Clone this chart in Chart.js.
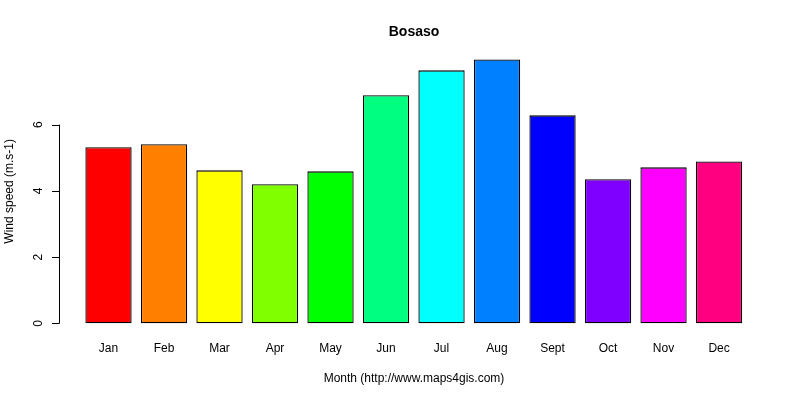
<!DOCTYPE html>
<html>
<head>
<meta charset="utf-8">
<script src="https://cdn.jsdelivr.net/npm/chart.js@4/dist/chart.umd.min.js"></script>
<style>
  html, body { margin: 0; padding: 0; background: #fff; }
  #wrap { width: 800px; height: 400px; }
</style>
</head>
<body>
<div id="wrap"><canvas id="myChart" width="800" height="400"></canvas></div>
<script>
const months = ["Jan","Feb","Mar","Apr","May","Jun","Jul","Aug","Sept","Oct","Nov","Dec"];
const windSpeed = [5.32, 5.41, 4.62, 4.20, 4.59, 6.89, 7.64, 7.97, 6.28, 4.35, 4.71, 4.89];
const barColors = ["#FF0000","#FF8000","#FFFF00","#80FF00","#00FF00","#00FF80",
                   "#00FFFF","#0080FF","#0000FF","#8000FF","#FF00FF","#FF0080"];
const yTicks = [0, 2, 4, 6];

const FONT = "'Liberation Sans', Arial, sans-serif";

// R style y axis: line only from first to last tick, rotated labels
const rAxis = {
    id: 'rAxis',
    afterDraw(chart){
        const ctx = chart.ctx;
        const y = chart.scales.y;
        const ax = chart.chartArea.left;
        ctx.save();
        ctx.strokeStyle = '#000';
        ctx.lineWidth = 1;
        ctx.beginPath();
        ctx.moveTo(ax + 0.5, y.getPixelForValue(yTicks[0]));
        ctx.lineTo(ax + 0.5, y.getPixelForValue(yTicks[yTicks.length-1]));
        for(let i=0; i<yTicks.length; i++){
            const py = Math.round(y.getPixelForValue(yTicks[i])) + 0.5;
            ctx.moveTo(ax + 0.5, py);
            ctx.lineTo(ax - 7, py);
        }
        ctx.stroke();
        ctx.fillStyle = '#000';
        ctx.font = '12px ' + FONT;
        ctx.textAlign = 'center';
        ctx.textBaseline = 'middle';
        for(let i=0; i<yTicks.length; i++){
            ctx.save();
            ctx.translate(ax - 20, y.getPixelForValue(yTicks[i]));
            ctx.rotate(-Math.PI/2);
            ctx.fillText(String(yTicks[i]), 0, 0);
            ctx.restore();
        }
        // axis title
        ctx.save();
        ctx.translate(10, (chart.chartArea.top + chart.chartArea.bottom)/2);
        ctx.rotate(-Math.PI/2);
        ctx.fillText('Wind speed (m.s-1)', 0, 0);
        ctx.restore();
        ctx.restore();
    }
};

const ctx = document.getElementById("myChart").getContext("2d");
window.myChart = new Chart(ctx, {
    type: 'bar',
    data: {
        datasets: [{
            label: 'Wind speed',
            data: windSpeed.map((v, i) => ({x: i, y: v})),
            backgroundColor: barColors,
            borderColor: '#000',
            borderWidth: 1.3,
            borderSkipped: false,
            barPercentage: 0.834,
            categoryPercentage: 1.0
        }]
    },
    options: {
        responsive: false,
        animation: false,
        devicePixelRatio: 1,
        layout: { padding: { left: 59, right: 31, top: 0, bottom: 6.3 } },
        plugins: {
            legend: { display: false },
            tooltip: { enabled: false },
            title: {
                display: true,
                text: 'Bosaso',
                color: '#000',
                font: { family: FONT, size: 14, weight: 'bold' },
                padding: { top: 23.5, bottom: 8.5 }
            }
        },
        scales: {
            x: {
                type: 'linear',
                min: -0.892,
                max: 11.9,
                offset: false,
                grid: { display: false, drawTicks: false },
                border: { display: false },
                afterBuildTicks(scale){
                    scale.ticks = months.map((m, i) => ({value: i}));
                },
                ticks: {
                    autoSkip: false,
                    maxRotation: 0,
                    padding: 8,
                    color: '#000',
                    font: { family: FONT, size: 12 },
                    callback: (v) => months[v]
                },
                title: {
                    display: true,
                    text: 'Month (http://www.maps4gis.com)',
                    color: '#000',
                    font: { family: FONT, size: 12 },
                    padding: { top: 7, bottom: 8 }
                }
            },
            y: {
                display: false,
                min: -0.319,
                max: 8.29
            }
        }
    },
    plugins: [rAxis]
});
</script>
</body>
</html>
